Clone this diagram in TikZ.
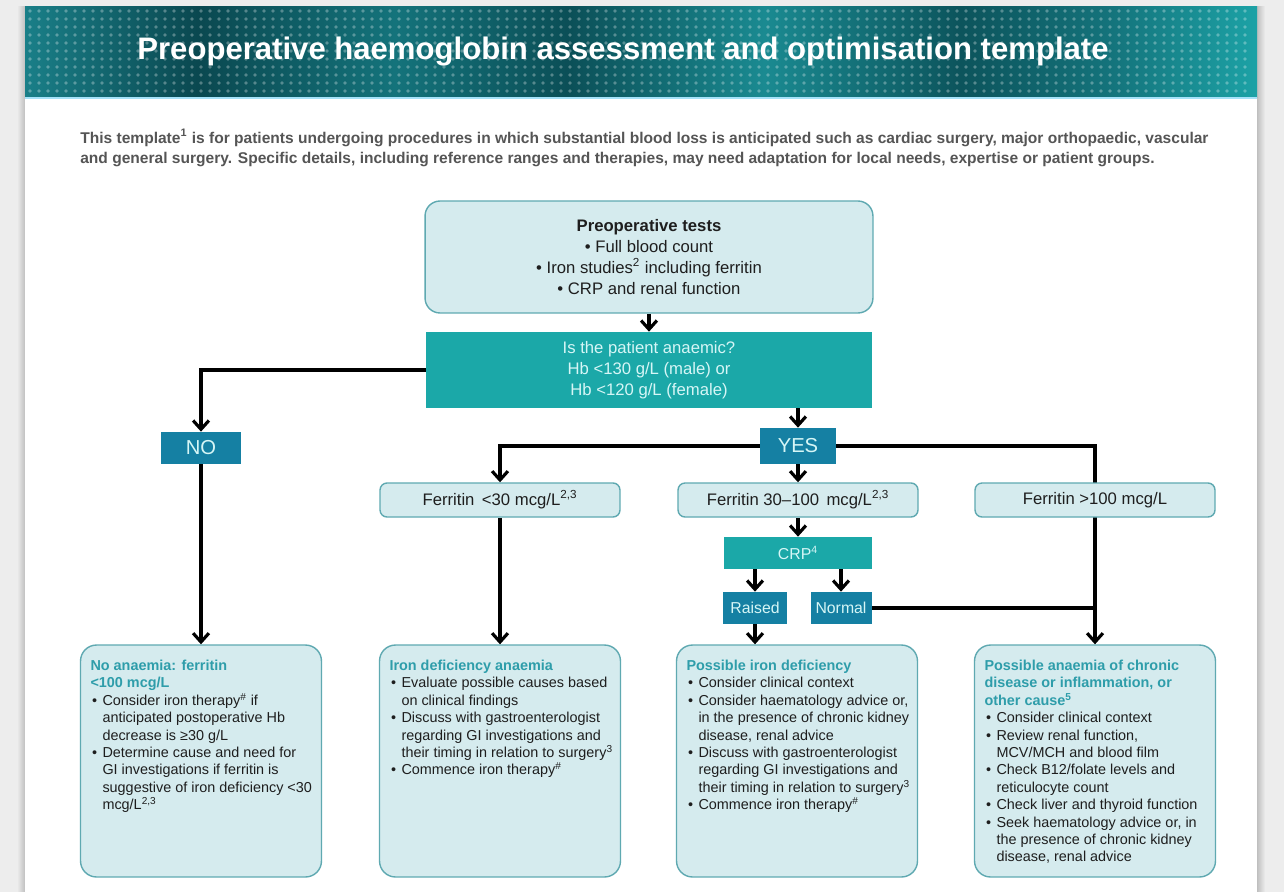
\documentclass[tikz,border=0pt]{standalone}
\usepackage{fontspec}
\setmainfont{Liberation Sans}
\usepackage{xcolor}
\usepackage{tikz}
\usetikzlibrary{arrows.meta}
\definecolor{pagegrey}{HTML}{EDEDED}
\definecolor{paleteal}{HTML}{D5EBEE}
\definecolor{edgeteal}{HTML}{5FA9B1}
\definecolor{midteal}{HTML}{1BA8A8}
\definecolor{deepteal}{HTML}{1580A3}
\definecolor{headteal}{HTML}{2E9DAA}
\definecolor{lighttext}{HTML}{D6F6F6}
\definecolor{bodytext}{HTML}{1E1E1E}
\definecolor{introgrey}{HTML}{555555}
\definecolor{hd1}{HTML}{1A7F88}
\definecolor{hd2}{HTML}{0A4850}
\definecolor{hd3}{HTML}{14737B}
\definecolor{hd4}{HTML}{0B4F57}
\definecolor{hd5}{HTML}{1A8A91}
\definecolor{hd6}{HTML}{0C545C}
\definecolor{hd7}{HTML}{1CA2A6}
\pgfdeclarehorizontalshading{headshade}{100bp}{color(0bp)=(hd1); color(25bp)=(hd1); color(32bp)=(hd2); color(40bp)=(hd3); color(47bp)=(hd4); color(55bp)=(hd5); color(63bp)=(hd6); color(69bp)=(hd3); color(75bp)=(hd7); color(100bp)=(hd7)}
\tikzstyle{test box}=[fill=paleteal, draw=edgeteal, line width=0.8pt, rounded corners=0.3cm, minimum width=8.96cm, minimum height=2.24cm, align=center, text=bodytext, font=\fontsize{9.5}{11.8}\selectfont]
\tikzstyle{question box}=[fill=midteal, minimum width=8.92cm, minimum height=1.52cm, align=center, text=lighttext, font=\fontsize{9.5}{11.9}\selectfont]
\tikzstyle{answer box}=[fill=deepteal, text=lighttext, minimum height=0.64cm, inner sep=0pt, font=\fontsize{11.5}{13}\selectfont]
\tikzstyle{small answer}=[answer box, font=\fontsize{9}{11}\selectfont]
\tikzstyle{crp box}=[fill=midteal, text=lighttext, minimum width=2.96cm, minimum height=0.64cm, inner sep=0pt, font=\fontsize{9}{11}\selectfont]
\tikzstyle{ferritin box}=[fill=paleteal, draw=edgeteal, line width=0.8pt, rounded corners=0.14cm, minimum width=4.8cm, minimum height=0.68cm, inner sep=0pt, text=bodytext, font=\fontsize{9.5}{11}\selectfont]
\tikzstyle{action box}=[fill=paleteal, draw=edgeteal, line width=0.8pt, rounded corners=0.32cm, inner xsep=0.1cm, inner ysep=0.3cm, text=bodytext, font=\fontsize{8.2}{9.9}\selectfont]
\tikzstyle{arrow edge}=[-{Straight Barb[length=5pt,width=9pt]}, line width=1.8pt, draw=black]
\tikzstyle{plain edge}=[-, line width=1.8pt, draw=black]
\newcommand{\boxtext}[1]{\parbox[t][4.04cm][t]{4.62cm}{\raggedright\leftskip=0.1cm #1}}
\newcommand{\bitem}[1]{\par\hangindent=0.24cm\hangafter=1\noindent\makebox[0.24cm][l]{\hspace{0.03cm}\textbullet}#1}
\newcommand{\boxhead}[1]{{\bfseries\color{headteal}#1}}
\pgfdeclarelayer{bglayer}
\pgfdeclarelayer{edgelayer}
\pgfdeclarelayer{nodelayer}
\pgfsetlayers{bglayer,edgelayer,nodelayer,main}

\begin{document}
\begin{tikzpicture}[x=0.02cm, y=-0.02cm]
	\useasboundingbox (0, 0) rectangle (1284, 892);
	\begin{pgfonlayer}{bglayer}
		% page and banner
		\fill [pagegrey] (0, 0) rectangle (1284, 892);
		\shade [left color=pagegrey, right color=black!25] (17, 7) rectangle (25, 892);
		\shade [left color=black!25, right color=pagegrey] (1257, 7) rectangle (1265, 892);
		\fill [white] (25, 7) rectangle (1257, 892);
		\shade [shading=headshade] (25, 7) rectangle (1257, 98);
		\foreach \i in {0,...,135}
			\foreach \j in {0,...,10}
				\fill [white, opacity=0.3] (30+9*\i, 11+8*\j) circle [radius=1.1pt];
		\draw [cyan!35, line width=1pt] (25, 98) -- (1257, 98);
	\end{pgfonlayer}
	\begin{pgfonlayer}{nodelayer}
		\node [text=white, font=\bfseries\fontsize{17.7}{21}\selectfont] (14) at (623, 52) {Preoperative haemoglobin assessment and optimisation template};
		\node [anchor=north west, align=left, inner sep=0pt, text=introgrey, font=\bfseries\fontsize{8.85}{11.3}\selectfont] (15) at (80, 129) {This template\textsuperscript{1} is for patients undergoing procedures in which substantial blood loss is anticipated such as cardiac surgery, major orthopaedic, vascular\\and general surgery. Specific details, including reference ranges and therapies, may need adaptation for local needs, expertise or patient groups.};
		\node [style=test box] (0) at (649, 257) {{\bfseries Preoperative tests}\\\textbullet{} Full blood count\\\textbullet{} Iron studies\textsuperscript{2} including ferritin\\\textbullet{} CRP and renal function};
		\node [style=question box] (1) at (649, 370) {Is the patient anaemic?\\Hb <130 g/L (male) or\\Hb <120 g/L (female)};
		\node [style=answer box, minimum width=1.6cm] (2) at (201, 448) {NO};
		\node [style=answer box, minimum width=1.52cm, minimum height=0.72cm] (3) at (798, 446) {YES};
		\node [style=ferritin box] (4) at (500, 500) {Ferritin \,<30 mcg/L\textsuperscript{2,3}};
		\node [style=ferritin box] (5) at (798, 500) {Ferritin 30--100 \,mcg/L\textsuperscript{2,3}};
		\node [style=ferritin box] (6) at (1095, 500) {Ferritin >100 mcg/L};
		\node [style=crp box] (7) at (798, 553) {CRP\textsuperscript{4}};
		\node [style=small answer, minimum width=1.28cm] (8) at (755, 608) {Raised};
		\node [style=small answer, minimum width=1.22cm] (9) at (841, 608) {Normal};
		\node [style=action box] (10) at (201, 761) {\boxtext{\boxhead{No anaemia: ferritin\newline <100 mcg/L}
			\bitem{Consider iron therapy\textsuperscript{\#} if\newline anticipated postoperative Hb\newline decrease is ≥30 g/L}
			\bitem{Determine cause and need for\newline GI investigations if ferritin is\newline suggestive of iron deficiency <30\newline mcg/L\textsuperscript{2,3}}}};
		\node [style=action box] (11) at (500, 761) {\boxtext{\boxhead{Iron deficiency anaemia}
			\bitem{Evaluate possible causes based\newline on clinical findings}
			\bitem{Discuss with gastroenterologist\newline regarding GI investigations and\newline their timing in relation to surgery\textsuperscript{3}}
			\bitem{Commence iron therapy\textsuperscript{\#}}}};
		\node [style=action box] (12) at (797, 761) {\boxtext{\boxhead{Possible iron deficiency}
			\bitem{Consider clinical context}
			\bitem{Consider haematology advice or,\newline in the presence of chronic kidney\newline disease, renal advice}
			\bitem{Discuss with gastroenterologist\newline regarding GI investigations and\newline their timing in relation to surgery\textsuperscript{3}}
			\bitem{Commence iron therapy\textsuperscript{\#}}}};
		\node [style=action box] (13) at (1095, 761) {\boxtext{\boxhead{Possible anaemia of chronic\newline disease or inflammation, or\newline other cause\textsuperscript{5}}
			\bitem{Consider clinical context}
			\bitem{Review renal function,\newline MCV/MCH and blood film}
			\bitem{Check B12/folate levels and\newline reticulocyte count}
			\bitem{Check liver and thyroid function}
			\bitem{Seek haematology advice or, in\newline the presence of chronic kidney\newline disease, renal advice}}};
	\end{pgfonlayer}
	\begin{pgfonlayer}{edgelayer}
		\draw [style=arrow edge] (0) to (1);
		\draw [style=arrow edge] (1.west) -| (2);
		\draw [style=arrow edge] (1.south -| 3) to (3);
		\draw [style=arrow edge] (3.west) -| (4);
		\draw [style=arrow edge] (3) to (5);
		\draw [style=arrow edge] (3.east) -| (13);
		\draw [style=arrow edge] (5) to (7);
		\draw [style=arrow edge] (7.south -| 8) to (8);
		\draw [style=arrow edge] (7.south -| 9) to (9);
		\draw [style=plain edge] (9.east) to (9.east -| 13);
		\draw [style=arrow edge] (2) to (10);
		\draw [style=arrow edge] (4) to (11);
		\draw [style=arrow edge] (8) to (8 |- 12.north);
	\end{pgfonlayer}
\end{tikzpicture}
\end{document}
